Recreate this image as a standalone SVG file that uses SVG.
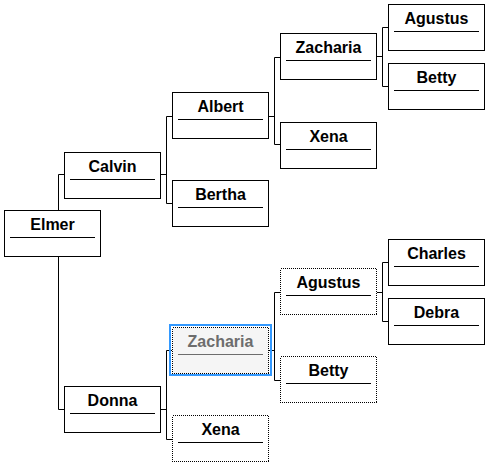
<svg xmlns="http://www.w3.org/2000/svg" width="489" height="467" viewBox="0 0 489 467">
<style>
  .box { fill: #ffffff; stroke: #000000; stroke-width: 1; }
  .dot { fill: #ffffff; stroke: #000000; stroke-width: 1; stroke-dasharray: 1 1; shape-rendering: crispEdges; }
  .sel { fill: #f5f5f5; stroke: #000000; stroke-width: 1; stroke-dasharray: 1 1; shape-rendering: crispEdges; }
  .selring { fill: none; stroke: #3399ff; stroke-width: 2; }
  .ul { stroke: #000000; stroke-width: 1; }
  .ulsel { stroke: #6d6d6d; stroke-width: 1; }
  .lbl { font-family: "Liberation Sans", Arial, sans-serif; font-weight: bold; font-size: 16px; fill: #000000; text-anchor: middle; }
  .lblsel { fill: #6d6d6d; }
  .conn { fill: none; stroke: #000000; stroke-width: 1; }
</style>
<rect width="489" height="467" fill="#ffffff"/>
<g id="connectors">
  <path class="conn" d="M64 174.5 H58.5 V210 M58.5 256 V409.5 H64"/>
  <path class="conn" d="M160 174.5 H166.5 M172 116.5 H166.5 V203.5 H172"/>
  <path class="conn" d="M268 116.5 H274.5 M280 57.5 H274.5 V144.5 H280"/>
  <path class="conn" d="M376 56.5 H382.5 M388 27.5 H382.5 V86.5 H388"/>
  <path class="conn" d="M160 409.5 H166.5 M172 350.5 H166.5 V439.5 H172"/>
  <path class="conn" d="M268 350.5 H274.5 M280 292.5 H274.5 V380.5 H280"/>
  <path class="conn" d="M376 292.5 H382.5 M388 262.5 H382.5 V321.5 H388"/>
</g>
<g id="elmer">
  <rect class="box" x="4.5" y="210.5" width="96" height="46"/>
  <text class="lbl" x="52.5" y="230">Elmer</text>
  <line class="ul" x1="10" y1="237.5" x2="95" y2="237.5"/>
</g>
<g id="calvin">
  <rect class="box" x="64.5" y="152.5" width="96" height="46"/>
  <text class="lbl" x="112.5" y="172">Calvin</text>
  <line class="ul" x1="70" y1="179.5" x2="155" y2="179.5"/>
</g>
<g id="donna">
  <rect class="box" x="64.5" y="386.5" width="96" height="46"/>
  <text class="lbl" x="112.5" y="406">Donna</text>
  <line class="ul" x1="70" y1="413.5" x2="155" y2="413.5"/>
</g>
<g id="albert">
  <rect class="box" x="172.5" y="92.5" width="96" height="46"/>
  <text class="lbl" x="220.5" y="112">Albert</text>
  <line class="ul" x1="178" y1="119.5" x2="263" y2="119.5"/>
</g>
<g id="bertha">
  <rect class="box" x="172.5" y="180.5" width="96" height="46"/>
  <text class="lbl" x="220.5" y="200">Bertha</text>
  <line class="ul" x1="178" y1="207.5" x2="263" y2="207.5"/>
</g>
<g id="zacharia2">
  <rect class="selring" x="170" y="325" width="101" height="50"/>
  <rect class="sel" x="172.5" y="327.5" width="96" height="46"/>
  <text class="lbl lblsel" x="220.5" y="347">Zacharia</text>
  <line class="ulsel" x1="178" y1="354.5" x2="263" y2="354.5"/>
</g>
<g id="xena2">
  <rect class="dot" x="172.5" y="415.5" width="96" height="46"/>
  <text class="lbl" x="220.5" y="435">Xena</text>
  <line class="ul" x1="178" y1="442.5" x2="263" y2="442.5"/>
</g>
<g id="zacharia1">
  <rect class="box" x="280.5" y="33.5" width="96" height="46"/>
  <text class="lbl" x="328.5" y="53">Zacharia</text>
  <line class="ul" x1="286" y1="60.5" x2="371" y2="60.5"/>
</g>
<g id="xena1">
  <rect class="box" x="280.5" y="122.5" width="96" height="46"/>
  <text class="lbl" x="328.5" y="142">Xena</text>
  <line class="ul" x1="286" y1="149.5" x2="371" y2="149.5"/>
</g>
<g id="agustus2">
  <rect class="dot" x="280.5" y="268.5" width="96" height="46"/>
  <text class="lbl" x="328.5" y="288">Agustus</text>
  <line class="ul" x1="286" y1="295.5" x2="371" y2="295.5"/>
</g>
<g id="betty2">
  <rect class="dot" x="280.5" y="356.5" width="96" height="46"/>
  <text class="lbl" x="328.5" y="376">Betty</text>
  <line class="ul" x1="286" y1="383.5" x2="371" y2="383.5"/>
</g>
<g id="agustus1">
  <rect class="box" x="388.5" y="4.5" width="96" height="46"/>
  <text class="lbl" x="436.5" y="24">Agustus</text>
  <line class="ul" x1="394" y1="31.5" x2="479" y2="31.5"/>
</g>
<g id="betty1">
  <rect class="box" x="388.5" y="63.5" width="96" height="46"/>
  <text class="lbl" x="436.5" y="83">Betty</text>
  <line class="ul" x1="394" y1="90.5" x2="479" y2="90.5"/>
</g>
<g id="charles">
  <rect class="box" x="388.5" y="239.5" width="96" height="46"/>
  <text class="lbl" x="436.5" y="259">Charles</text>
  <line class="ul" x1="394" y1="266.5" x2="479" y2="266.5"/>
</g>
<g id="debra">
  <rect class="box" x="388.5" y="298.5" width="96" height="46"/>
  <text class="lbl" x="436.5" y="318">Debra</text>
  <line class="ul" x1="394" y1="325.5" x2="479" y2="325.5"/>
</g>
</svg>
